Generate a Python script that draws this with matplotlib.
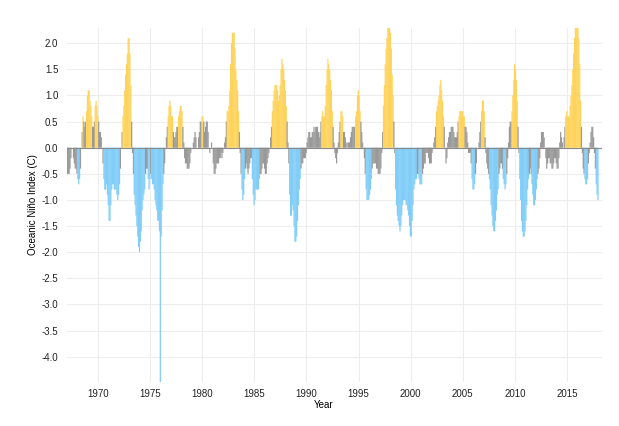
import matplotlib
matplotlib.use("Agg")
import matplotlib.pyplot as plt
import numpy as np

# Oceanic Nino Index, monthly (3-month running mean), Jan 1967 - Dec 2017
first_year = 1967

oni_1960s = [
    -0.5, -0.5, -0.5, -0.4, -0.2, 0.0, 0.0, -0.2, -0.3, -0.4, -0.4, -0.5,  # 1967
    -0.6, -0.7, -0.6, -0.4, 0.0, 0.3, 0.6, 0.5, 0.4, 0.5, 0.7, 1.0,       # 1968
    1.1, 1.1, 0.9, 0.8, 0.6, 0.4, 0.4, 0.5, 0.8, 0.9, 0.8, 0.6,           # 1969
]
oni_1970s = [
    0.5, 0.3, 0.3, 0.2, 0.0, -0.3, -0.6, -0.8, -0.8, -0.7, -0.9, -1.1,
    -1.4, -1.4, -1.1, -0.8, -0.7, -0.7, -0.8, -0.8, -0.8, -0.9, -1.0, -0.9,
    -0.7, -0.4, 0.0, 0.3, 0.6, 0.8, 1.1, 1.4, 1.6, 1.8, 2.1, 2.1,
    1.8, 1.2, 0.5, -0.1, -0.5, -0.9, -1.1, -1.3, -1.5, -1.7, -1.9, -2.0,
    -1.8, -1.6, -1.2, -1.0, -0.9, -0.8, -0.5, -0.4, -0.4, -0.6, -0.8, -0.6,
    -0.5, -0.6, -0.7, -0.7, -0.8, -1.0, -1.1, -1.2, -1.4, -1.4, -1.6, -4.5,
    -1.7, -1.2, -0.7, -0.5, -0.3, 0.0, 0.2, 0.4, 0.6, 0.8, 0.9, 0.8,
    0.6, 0.6, 0.3, 0.2, 0.2, 0.3, 0.4, 0.4, 0.6, 0.7, 0.8, 0.8,
    0.7, 0.4, 0.1, -0.2, -0.3, -0.3, -0.4, -0.4, -0.4, -0.3, -0.1, 0.0,
    0.0, 0.1, 0.2, 0.3, 0.2, 0.0, 0.0, 0.2, 0.3, 0.5, 0.5, 0.6,
]
oni_1980s = [
    0.6, 0.5, 0.3, 0.4, 0.5, 0.5, 0.3, 0.0, -0.1, 0.0, 0.1, 0.0,
    -0.3, -0.5, -0.5, -0.4, -0.3, -0.3, -0.3, -0.2, -0.2, -0.1, -0.2, -0.1,
    0.0, 0.1, 0.2, 0.5, 0.7, 0.7, 0.8, 1.1, 1.6, 2.0, 2.2, 2.2,
    2.2, 1.9, 1.5, 1.3, 1.1, 0.7, 0.3, -0.1, -0.5, -0.8, -1.0, -0.9,
    -0.6, -0.4, -0.3, -0.4, -0.5, -0.4, -0.3, -0.2, -0.2, -0.6, -0.9, -1.1,
    -1.0, -0.8, -0.8, -0.8, -0.8, -0.6, -0.5, -0.5, -0.4, -0.3, -0.3, -0.4,
    -0.5, -0.5, -0.3, -0.2, -0.1, 0.0, 0.2, 0.4, 0.7, 0.9, 1.1, 1.2,
    1.2, 1.2, 1.1, 0.9, 1.0, 1.2, 1.5, 1.7, 1.6, 1.5, 1.3, 1.1,
    0.8, 0.5, 0.1, -0.3, -0.9, -1.3, -1.3, -1.1, -1.2, -1.5, -1.8, -1.8,
    -1.7, -1.4, -1.1, -0.8, -0.6, -0.4, -0.3, -0.3, -0.2, -0.2, -0.2, -0.1,
]
oni_1990s = [
    0.1, 0.2, 0.3, 0.3, 0.2, 0.2, 0.3, 0.3, 0.4, 0.3, 0.4, 0.4,
    0.4, 0.3, 0.2, 0.3, 0.5, 0.6, 0.7, 0.6, 0.6, 0.8, 1.2, 1.5,
    1.7, 1.6, 1.5, 1.3, 1.1, 0.7, 0.4, 0.1, -0.1, -0.2, -0.3, -0.1,
    0.1, 0.3, 0.5, 0.7, 0.7, 0.6, 0.3, 0.3, 0.2, 0.1, 0.0, 0.1,
    0.1, 0.1, 0.2, 0.3, 0.4, 0.4, 0.4, 0.4, 0.6, 0.7, 1.0, 1.1,
    1.0, 0.7, 0.5, 0.3, 0.1, 0.0, -0.2, -0.5, -0.8, -1.0, -1.0, -1.0,
    -0.9, -0.8, -0.6, -0.4, -0.3, -0.3, -0.3, -0.3, -0.4, -0.4, -0.5, -0.5,
    -0.5, -0.4, -0.1, 0.3, 0.8, 1.2, 1.6, 1.9, 2.1, 2.3, 2.4, 2.4,
    2.2, 1.9, 1.4, 1.0, 0.5, -0.1, -0.8, -1.1, -1.3, -1.4, -1.5, -1.6,
    -1.5, -1.3, -1.1, -1.0, -1.0, -1.0, -1.1, -1.1, -1.2, -1.3, -1.5, -1.7,
]
oni_2000s = [
    -1.7, -1.4, -1.1, -0.8, -0.7, -0.6, -0.6, -0.5, -0.5, -0.6, -0.7, -0.7,
    -0.7, -0.5, -0.4, -0.3, -0.3, -0.1, -0.1, -0.1, -0.2, -0.3, -0.3, -0.3,
    -0.1, 0.0, 0.1, 0.2, 0.4, 0.7, 0.8, 0.9, 1.0, 1.2, 1.3, 1.1,
    0.9, 0.6, 0.4, 0.0, -0.3, -0.2, 0.1, 0.2, 0.3, 0.3, 0.4, 0.4,
    0.4, 0.3, 0.2, 0.2, 0.2, 0.3, 0.5, 0.6, 0.7, 0.7, 0.7, 0.7,
    0.6, 0.6, 0.4, 0.4, 0.3, 0.1, -0.1, -0.1, -0.1, -0.3, -0.6, -0.8,
    -0.8, -0.7, -0.5, -0.3, 0.0, 0.0, 0.1, 0.3, 0.5, 0.7, 0.9, 0.9,
    0.7, 0.2, -0.1, -0.3, -0.4, -0.5, -0.6, -0.8, -1.1, -1.3, -1.5, -1.6,
    -1.6, -1.4, -1.2, -0.9, -0.8, -0.5, -0.4, -0.3, -0.3, -0.4, -0.6, -0.7,
    -0.8, -0.7, -0.5, -0.2, 0.1, 0.4, 0.5, 0.5, 0.7, 1.0, 1.3, 1.6,
]
oni_2010s = [
    1.5, 1.3, 0.9, 0.4, -0.1, -0.6, -1.0, -1.4, -1.6, -1.7, -1.7, -1.6,
    -1.4, -1.1, -0.8, -0.6, -0.5, -0.4, -0.5, -0.7, -0.9, -1.1, -1.1, -1.0,
    -0.8, -0.6, -0.5, -0.4, -0.2, 0.1, 0.3, 0.3, 0.3, 0.2, 0.0, -0.2,
    -0.4, -0.3, -0.2, -0.2, -0.3, -0.3, -0.4, -0.4, -0.3, -0.2, -0.2, -0.3,
    -0.4, -0.4, -0.2, 0.1, 0.3, 0.2, 0.1, 0.0, 0.2, 0.4, 0.6, 0.7,
    0.6, 0.6, 0.6, 0.8, 1.0, 1.2, 1.5, 1.8, 2.1, 2.4, 2.5, 2.6,
    2.5, 2.1, 1.6, 0.9, 0.4, -0.1, -0.4, -0.5, -0.6, -0.7, -0.7, -0.6,
    -0.3, -0.1, 0.1, 0.3, 0.4, 0.4, 0.2, -0.1, -0.4, -0.7, -0.9, -1.0,
]

year_ticks = [1970, 1975, 1980, 1985, 1990, 1995, 2000, 2005, 2010, 2015]
index_ticks = [-4.0, -3.5, -3.0, -2.5, -2.0, -1.5, -1.0, -0.5, 0.0, 0.5, 1.0, 1.5, 2.0]

gold = "#FFD35A"
blue = "#80CDF8"
gray = "#999999"

oni = np.array(oni_1960s + oni_1970s + oni_1980s + oni_1990s + oni_2000s + oni_2010s)
months = first_year + np.arange(len(oni)) / 12.0

# colour by phase: El Nino above 0.5, La Nina below -0.5, neutral otherwise
bar_colors = np.where(oni > 0.5, gold, np.where(oni < -0.5, blue, gray))

plt.rcParams['font.family'] = ['Liberation Sans', 'DejaVu Sans']
plt.rcParams['axes.unicode_minus'] = False

fig = plt.figure(figsize=(6.19, 4.26), dpi=100)
ax = fig.add_axes([0.1078, 0.104, 0.8647, 0.830])

# bars slightly wider than a month so the sub-pixel bars leave no white seams
bars = ax.bar(months, oni, width=1.4 / 12, align='edge', color=bar_colors,
              linewidth=0, zorder=2)
for b in bars:
    b.set_snap(False)
ax.axhline(0, color='#8a8a8a', linewidth=0.8, zorder=3)

ax.set_xlim(1966.99, 2018.36)
ax.set_ylim(-4.48, 2.29)
ax.set_xticks(year_ticks)
ax.set_yticks(index_ticks)
ax.set_yticklabels(['%.1f' % v for v in index_ticks])

ax.grid(True, color='#EDEDED', linewidth=0.8, zorder=0)
ax.set_axisbelow(True)
for s in ax.spines.values():
    s.set_visible(False)
ax.tick_params(length=0, labelsize=7, labelcolor='#222222')
ax.tick_params(axis='y', pad=6)
ax.tick_params(axis='x', pad=5)

ax.set_xlabel('Year', fontsize=7)
ax.set_ylabel('Oceanic Niño Index (C)', fontsize=7)
ax.xaxis.set_label_coords(0.48, -0.052)
ax.yaxis.set_label_coords(-0.054, 0.5)

fig.savefig('out.png', dpi=100, facecolor='white')
